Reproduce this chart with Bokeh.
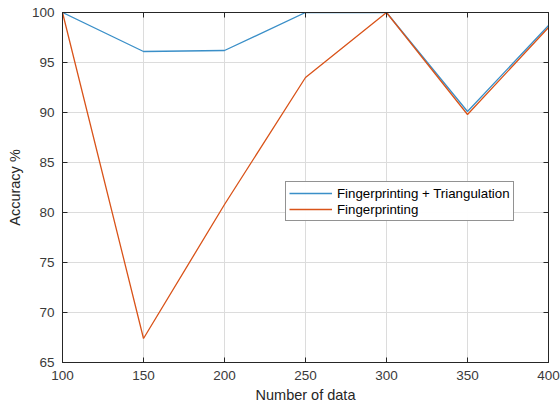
from bokeh.plotting import figure
from bokeh.models import LinearAxis, Legend, LegendItem, Range1d, FixedTicker
from bokeh.embed import file_html
from bokeh.resources import INLINE

n_data = [100, 150, 200, 250, 300, 350, 400]
fp_tri = [100, 96.1, 96.2, 100, 100, 90.1, 98.7]
fp_only = [100, 67.4, 80.8, 93.5, 100, 89.8, 98.5]
x_ticks = [100, 150, 200, 250, 300, 350, 400]
y_ticks = [65, 70, 75, 80, 85, 90, 95, 100]

FONT = "Liberation Sans"
BLUE = "#3a8fc8"
ORANGE = "#d95319"

p = figure(width=560, height=406, output_backend="svg", toolbar_location=None,
           x_range=Range1d(100, 400), y_range=Range1d(65, 100),
           min_border_left=62, min_border_right=12, min_border_top=12, min_border_bottom=44)

p.outline_line_color = "#262626"
p.outline_line_width = 1
p.background_fill_color = "white"
p.border_fill_color = "white"

r1 = p.line(n_data, fp_tri, line_color=BLUE, line_width=1.3)
r2 = p.line(n_data, fp_only, line_color=ORANGE, line_width=1.3)

for ax in (p.xaxis[0], p.yaxis[0]):
    ax.major_tick_in = 5
    ax.major_tick_out = 0
    ax.minor_tick_line_color = None
    ax.axis_line_color = "#262626"
    ax.major_tick_line_color = "#262626"
    ax.major_label_text_font = FONT
    ax.major_label_text_font_size = "13.5px"
    ax.major_label_text_color = "#3a3a3a"
    ax.axis_label_text_font = FONT
    ax.axis_label_text_font_size = "14.5px"
    ax.axis_label_text_font_style = "normal"
    ax.axis_label_text_color = "#262626"

p.xaxis[0].ticker = FixedTicker(ticks=x_ticks)
p.yaxis[0].ticker = FixedTicker(ticks=y_ticks)
p.xaxis[0].axis_label = "Number of data"
p.yaxis[0].axis_label = "Accuracy %"
p.xaxis[0].major_label_standoff = 8
p.yaxis[0].major_label_standoff = 8
p.xaxis[0].axis_label_standoff = 4
p.yaxis[0].axis_label_standoff = 6

top = LinearAxis(ticker=FixedTicker(ticks=x_ticks), major_tick_in=5, major_tick_out=0,
                 minor_tick_line_color=None, major_label_text_font_size="1px",
                 major_label_text_color=None,
                 axis_line_color="#262626", major_tick_line_color="#262626",
                 major_label_standoff=0)
right = LinearAxis(ticker=FixedTicker(ticks=y_ticks), major_tick_in=5, major_tick_out=0,
                   minor_tick_line_color=None, major_label_text_font_size="1px",
                   major_label_text_color=None,
                   axis_line_color="#262626", major_tick_line_color="#262626",
                   major_label_standoff=0)
p.add_layout(top, "above")
p.add_layout(right, "right")

p.xgrid.ticker = FixedTicker(ticks=x_ticks)
p.ygrid.ticker = FixedTicker(ticks=y_ticks)
p.grid.grid_line_color = "#dcdcdc"
p.grid.grid_line_width = 1

legend = Legend(items=[LegendItem(label="Fingerprinting + Triangulation", renderers=[r1]),
                       LegendItem(label="Fingerprinting", renderers=[r2])],
                location=(223, 141))
legend.label_text_font = FONT
legend.label_text_font_size = "13.3px"
legend.label_text_color = "#000000"
legend.border_line_color = "#262626"
legend.border_line_width = 1
legend.glyph_width = 43
legend.glyph_height = 16
legend.label_height = 16
legend.spacing = 0
legend.padding = 3
legend.margin = 0
legend.label_standoff = 5
p.add_layout(legend, "center")

open("out.html", "w").write(file_html(p, INLINE))
